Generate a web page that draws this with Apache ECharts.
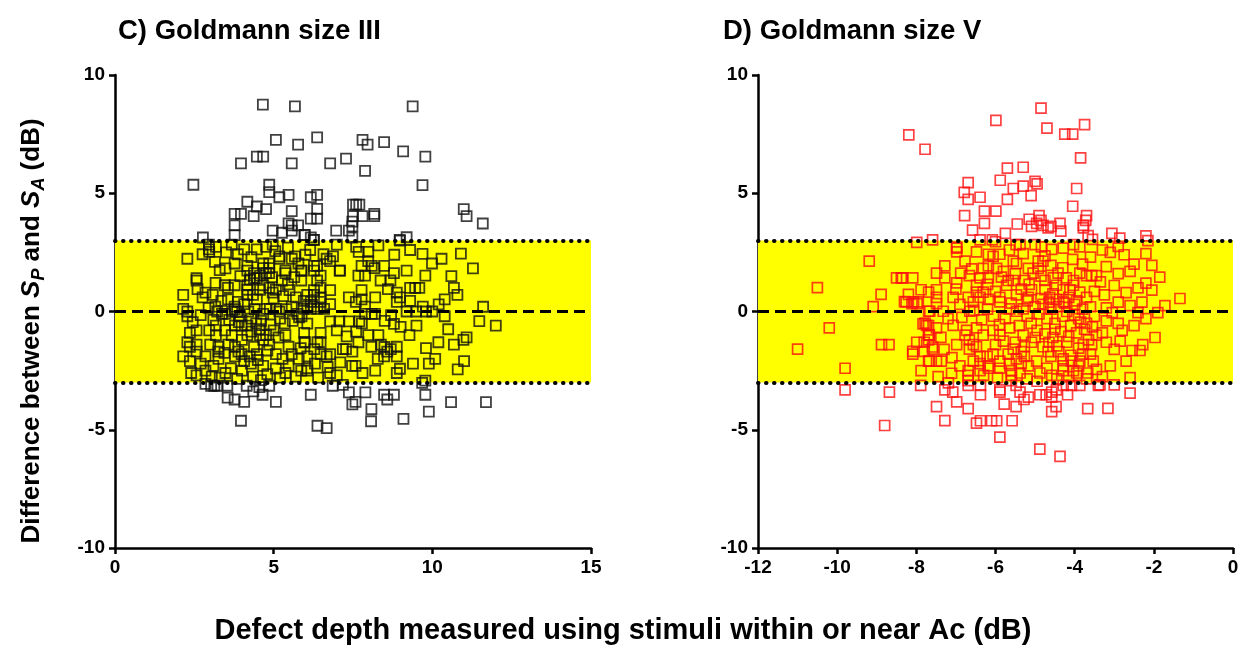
<!DOCTYPE html>
<html>
<head>
<meta charset="utf-8">
<title>Goldmann size III / V</title>
<script src="https://cdn.jsdelivr.net/npm/echarts@6/dist/echarts.min.js"></script>
<style>
  html, body { margin: 0; padding: 0; background: #fff; }
  #main { width: 1248px; height: 654px; }
</style>
</head>
<body>
<div id="main"></div>
<script>
// panel titles and axis names
const panelTitles = ['C) Goldmann size III', 'D) Goldmann size V'];
const xAxisName = 'Defect depth measured using stimuli within or near Ac (dB)';

// reference lines (dB)
const limitLow = -3;
const limitHigh = 3;
const meanDiff = 0;

// axis ranges
const yRange = [-10, 10];
const xRangeIII = [0, 15];
const xRangeV = [-12, 0];

// C) size III : [defect depth, difference]
const sizeIIIPoints = [
  [4.66,8.75],[5.67,8.67],[9.38,8.67],[5.07,7.26],[5.77,7.06],[6.37,7.36],[7.8,7.26],[7.96,7.06],[8.48,7.16],[9.08,6.77],[9.78,6.55],
  [2.47,5.36],[3.97,6.26],[4.47,6.55],[4.67,6.55],[5.57,6.26],[6.78,6.26],[7.28,6.46],[7.88,5.95],[9.69,5.34],
  [4.86,5.36],[4.86,5.05],[5.18,4.83],[5.47,4.93],[6.17,4.83],[6.37,4.93],[4.17,4.64],[4.47,4.44],[4.76,4.33],[3.77,4.13],
  [3.97,4.13],[4.37,4.03],[5.57,4.24],[6.37,4.34],[6.17,3.93],[6.37,3.93],[3.77,3.64],[5.47,3.73],[5.57,3.64],[5.77,3.64],
  [4.97,3.42],[5.26,3.33],[5.57,3.42],[3.77,3.23],[5.97,3.23],[6.17,3.13],[6.26,3.03],[6.97,3.42],[7.37,3.42],[7.48,3.6],
  [7.48,3.8],[7.48,3.13],[7.5,4.03],[7.8,4.03],[7.5,4.52],[7.6,4.52],[7.7,4.52],[8.17,4.13],[8.17,4.03],[8.97,3.03],
  [2.77,3.13],[10.99,4.33],[11.08,4.03],[11.59,3.72],[8.98,3.0],[9.19,3.14],[5.98,3.24],[6.27,3.03],
  [2.85,-3.06],[3.03,-3.14],[3.13,-3.14],[3.23,-3.14],[3.54,-3.14],[4.15,-3.14],[4.36,-3.38],[4.55,-3.2],[4.65,-3.52],[4.86,-3.14],
  [3.55,-3.64],[3.77,-3.72],[4.07,-3.82],[5.07,-3.82],[6.17,-3.52],[3.97,-4.62],[6.38,-4.83],[6.67,-4.93],[6.86,-3.14],[7.18,-3.1],
  [7.37,-3.42],[7.89,-3.42],[7.48,-3.93],[7.58,-3.82],[8.48,-3.52],[8.79,-3.52],[8.58,-3.72],[8.08,-4.13],[8.07,-4.64],[9.09,-4.54],
  [9.78,-3.52],[9.89,-4.23],[10.59,-3.83],[11.69,-3.83],[9.68,-3.02],[9.78,-2.92],
  [2.28,2.23],[2.96,2.83],[2.96,2.63],[3.18,2.73],[2.76,2.42],[2.97,2.52],[2.57,1.41],[2.57,1.31],[3.17,1.21],[2.85,0.8],
  [3.08,0.7],[2.76,0.6],[2.15,0.7],[3.16,0.21],[2.15,0.11],[2.28,0.0],[2.28,-0.2],[3.22,0],[3.37,-0.1],[3.48,-0.1],[3.69,0],
  [2.57,-0.8],[2.36,-0.9],[2.28,-1.3],[2.36,-1.49],[2.57,-1.4],[2.15,-1.9],[2.36,-2.1],[2.57,-1.7],[2.85,-1.9],[2.57,-2.7],
  [2.85,-2.5],[2.97,-0.8],[3.18,-0.6],[3.18,-1.0],[3.0,-1.4],[3.26,-1.49],[3.26,-1.7],[3.26,-2.0],[3.48,-2.6],[3.47,-0.8],
  [3.68,-1.0],[3.57,-1.4],[3.78,-1.49],[3.78,-1.9],[3.89,-1.7],[3.99,-1.8],[3.78,-0.6],[3.99,-0.6],
  [3.68,2.83],[3.87,2.42],[4.07,2.63],[4.47,2.63],[4.76,2.73],[4.97,2.83],[3.77,2.03],[3.48,1.82],[4.17,1.93],[4.17,1.73],
  [4.67,2.03],[4.86,2.03],[4.67,1.83],[4.86,1.83],[5.18,2.33],[5.18,2.23],[5.57,2.23],[5.67,2.33],[5.78,2.03],[5.37,1.73],
  [5.37,1.62],[5.87,1.73],[5.87,1.31],[4.38,1.62],[4.38,1.41],[4.47,1.41],[4.57,1.52],[4.76,1.62],[4.86,1.62],[5.26,1.31],
  [3.46,1.11],[3.56,1.0],[3.77,1.11],[4.17,1.11],[4.17,0.92],[4.17,0.7],[4.57,0.92],[4.67,1.11],[4.86,1.0],[4.97,0.8],
  [5.07,0.92],[3.56,0.51],[3.87,0.41],[4.47,0.51],[4.07,0.31],[3.77,0.21],[3.77,0.1],[3.85,0],[3.94,-0.2],[4.67,-0.1],
  [4.78,0.11],[4.88,0.11],[5.07,0.11],[5.18,0],[5.57,0.21],
  [4.17,-0.6],[4.17,-1.0],[4.07,-2.1],[4.28,-2.2],[4.38,-1.49],[4.47,-1.8],[4.57,-1.0],[4.67,-1.2],[4.76,-1.0],[4.67,-2.3],
  [4.86,-1.4],[5.07,-1.8],[5.07,-2.41],[5.37,-2.6],[5.28,-2.0],[5.47,-2.3],[5.37,-1.0],[5.47,-1.49],[5.57,-1.8],[5.79,-2.0],
  [5.97,-1.3],[6.06,-1.9],[5.87,-2.5],[6.06,-2.5],
  [3.6,-0.35],[3.9,-0.45],[4.3,-0.3],[4.45,-0.5],[4.6,-0.4],[4.9,-0.55],[5.2,-0.3],[5.35,-0.5],[5.6,-0.4],[5.8,-0.25],
  [4.2,0.0],[4.4,0.1],[5.4,0.1],[5.75,-0.1],[4.55,-0.75],[5.0,-0.8],[5.15,-1.1],[4.3,-0.85],[3.65,-2.4],[4.0,-2.5],
  [4.35,-2.75],[4.8,-2.65],[5.7,-2.75],[3.3,-2.8],[4.0,-1.2],[5.85,-1.55],[4.25,-1.9],[4.8,-1.65],[3.1,-2.3],[4.5,-2.05],
  [6.57,2.42],[6.67,2.23],[6.87,2.33],[6.78,2.13],[7.08,1.73],[6.27,1.93],[6.37,1.93],[6.27,1.73],[6.48,1.52],[6.37,1.31],
  [5.88,1.73],[6.48,1.0],[6.78,0.9],[6.27,0.9],[6.27,0.7],[6.06,0.7],[6.48,0.6],[6.48,0.41],[6.17,0.41],[6.27,0.21],
  [6.06,0.21],[6.78,0.31],[6.59,0.11],[5.94,0.11],[6.17,0.11],[6.38,0.11],[5.88,-0.2],[6.06,-0.51],[5.96,-0.9],[6.48,-0.9],
  [6.99,2.83],[7.6,2.73],[7.68,2.52],[7.98,2.52],[7.98,2.13],[8.09,1.93],[8.18,1.83],[7.77,1.93],[8.48,1.93],[8.79,1.62],
  [9.19,1.73],[9.69,2.44],[9.99,2.03],[10.29,2.23],[9.78,1.52],[11.28,1.82],[7.67,1.52],[7.88,1.52],[8.37,1.31],[8.68,1.31],
  [7.77,0.9],[7.37,0.6],[7.59,0.41],[7.77,0.51],[8.88,0.8],[8.98,0.6],[8.88,0.41],[9.3,1.0],[9.46,1.0],[9.59,1.0],
  [10.68,1.0],[10.79,0.7],[10.39,0.51],[7.88,0.21],[7.88,-0.1],[8.09,-0.1],[8.19,-0.1],[9.19,0],[9.49,0],[9.7,0.21],
  [9.8,0],[10.0,0],[10.39,-0.2],[11.48,-0.41],[12.0,-0.6],[8.79,-0.52],[6.78,-0.42],[7.07,-0.42],[7.37,-0.42],[7.7,-0.42],
  [7.78,-0.5],[6.99,-0.8],[7.98,-1.0],[8.3,-1.0],[9.28,-1.0],[10.98,-1.2],[11.08,-1.09],[10.68,-1.4],[10.19,-1.3],[10.09,-2.0],
  [9.89,-2.2],[9.39,-2.2],[8.98,-2.42],[8.88,-2.6],[7.67,-1.3],[8.08,-1.49],[8.38,-1.4],[8.49,-1.5],[8.58,-1.7],[8.69,-1.59],
  [8.88,-1.49],[8.48,-1.9],[8.88,-1.9],[8.28,-2.0],[7.18,-1.59],[7.28,-1.59],[7.48,-1.7],[7.47,-2.3],[7.58,-2.3],[6.78,-2.6],
  [6.99,-2.7],[6.48,-1.3],[6.38,-1.3],[6.28,-1.59],[6.48,-1.8],[6.78,-1.8],[6.67,-1.9],[5.98,-1.3],[6.06,-2.4],[7.09,1.73],
  [4.25,1.35],[4.95,1.45],[5.0,0.55],[5.3,0.65],[5.5,0.9],[5.7,0.6],[5.45,1.15],[4.35,0.7],[3.95,1.5],[3.3,1.75],
  [3.15,2.1],[2.6,0.95],[3.35,0.45],[5.65,1.45],[5.95,0.45],[6.0,2.4],[6.15,2.6],[5.45,2.7],[5.05,2.55],[4.3,2.3],
  [3.5,2.5],[2.45,-0.45],[2.7,-0.15],[2.95,0.15],[3.1,-0.35],[3.45,-1.75],[2.7,-2.2],[2.4,-2.6],[3.05,-2.75],[3.85,-2.85],
  [4.6,-2.9],[5.2,-2.8],[6.4,-2.8],[6.3,-2.2],[6.7,-2.35],[7.1,-2.15],[7.8,-2.6],[8.2,-2.5],[7.3,-1.05],[7.6,-0.85],
  [8.5,-0.4],[8.7,-0.15],[9.0,-0.65],[9.5,-0.6],[9.8,-1.55],[10.5,-0.75],[10.2,0.3],[9.3,0.45],[8.6,0.95],[8.2,0.6],
  [8.3,2.8],[8.8,2.4],[9.3,2.6],[10.6,1.5],[11.6,0.2],[10.9,2.45],[11.0,-2.1],[10.8,-2.45]
];

// D) size V : [defect depth, difference]
const sizeVPoints = [
  [-8.19,7.47],[-7.78,6.86],[-5.99,8.08],[-5.7,6.06],[-5.88,5.55],[-6.69,5.45],[-6.79,5.04],[-6.69,4.74],[-6.39,4.83],[-5.7,4.74],
  [-6.28,4.24],[-5.99,4.24],[-6.78,4.05],[-6.28,3.73],[-6.58,3.44],[-6.39,3.03],[-6.08,3.03],[-7.99,2.92],[-7.59,3.03],[-6.98,2.68],
  [-4.85,8.6],[-4.7,7.75],[-4.25,7.5],[-4.05,7.5],[-3.75,7.9],[-3.85,6.5],[-3.95,5.2],[-3.7,4.05],[-3.72,3.85],[-4.05,4.45],
  [-5.3,6.1],[-5.0,5.5],[-4.95,5.4],[-5.3,5.3],[-5.55,5.2],[-5.1,4.9],[-4.9,4.05],[-4.85,3.85],[-5.15,3.9],[-5.45,3.7],
  [-4.6,3.6],[-4.35,3.4],[-5.75,3.3],[-6.0,2.95],[-5.09,3.6],[-4.96,3.73],[-4.8,3.64],[-4.67,3.54],[-4.37,3.73],[-3.78,3.64],
  [-3.78,3.54],[-3.66,3.21],[-3.55,3.05],[-3.06,3.3],[-2.86,3.1],[-2.2,3.2],[-2.15,3.0],
  [-9.8,-3.31],[-8.68,-3.41],[-8.8,-4.82],[-7.89,-3.12],[-7.49,-4.02],[-7.28,-4.61],[-7.28,-3.31],[-7.08,-3.41],[-6.98,-3.82],[-6.69,-4.11],
  [-6.48,-4.72],[-6.38,-4.62],[-6.38,-3.12],[-6.38,-3.52],[-6.1,-4.62],[-5.97,-4.62],[-5.89,-3.31],[-5.89,-3.41],[-5.89,-5.31],[-5.78,-3.92],
  [-5.58,-4.62],[-5.48,-4.02],[-5.48,-3.12],[-5.38,-3.41],[-5.28,-3.72],[-5.17,-3.62],[-4.88,-3.52],[-4.72,-3.52],[-4.58,-3.62],[-4.58,-3.41],
  [-4.46,-3.31],[-4.58,-4.23],[-4.47,-4.02],[-4.88,-5.82],[-4.37,-6.13],[-4.29,-3.12],[-4.08,-3.12],[-3.87,-3.12],[-4.18,-3.52],[-3.67,-4.11],
  [-3.4,-3.12],[-6.69,-3.12],[-7.19,-3.02],[-3.16,-4.1],[-3.36,-3.1],[-3.0,-3.1],[-2.6,-3.45],
  [-11.0,-1.59],[-10.5,1.01],[-10.2,-0.69],[-9.8,-2.4],[-9.19,2.13],[-9.09,0.21],[-8.89,0.72],[-8.5,1.42],[-8.38,1.42],[-8.09,1.42],
  [-8.2,0.72],[-8.3,0.42],[-8.11,0.33],[-7.98,0.33],[-7.88,0.92],[-7.69,0.82],[-7.49,1.62],[-7.49,0.92],[-7.49,0.6],[-7.49,0.33],
  [-7.69,0.01],[-7.78,-0.49],[-7.69,-0.6],[-7.49,-0.69],[-7.69,-0.99],[-8.88,-1.4],[-8.69,-1.4],[-7.99,-1.3],[-7.8,-1.3],[-8.09,-1.69],
  [-8.09,-1.8],[-7.8,-1.69],[-7.69,-1.0],[-7.69,-1.2],[-7.59,-1.5],[-7.59,-1.59],[-7.69,-2.1],[-7.88,-2.5],[-7.83,-0.52],[-7.49,-2.1],
  [-8.26,0.41],[-8.07,0.41],[-7.95,0.41],[-7.66,0.01],[-7.28,1.93],[-7.28,1.42],[-8.35,1.42],
  [-7.32,0.01],[-6.65,0.01],[-6.98,2.72],[-6.98,2.52],[-6.48,2.52],[-6.18,2.42],[-5.89,2.42],[-6.06,2.33],[-6.77,2.13],[-6.88,1.62],
  [-6.66,1.52],[-6.98,1.21],[-6.18,1.93],[-5.97,1.82],[-6.31,1.82],[-6.39,1.42],[-6.18,1.42],[-5.55,2.13],[-5.47,2.03],[-5.68,1.31],
  [-5.55,1.31],[-5.72,1.11],[-5.89,0.6],[-5.89,0.41],[-6.18,0.51],[-6.31,0.82],[-6.48,1.11],[-6.48,0.82],[-6.39,0.6],[-6.69,0.6],
  [-6.56,0.41],[-7.07,0.6],[-5.64,0.11],[-5.47,0.01],[-7.74,-0.59],[-7.07,-0.59],[-6.73,-0.8],[-6.48,-0.69],[-6.31,-1.0],[-6.06,-0.8],
  [-5.89,-1.0],[-5.64,-0.69],[-7.67,-1.0],[-7.38,-1.09],[-6.98,-1.4],[-6.77,-1.0],[-6.66,-1.2],[-6.56,-1.4],[-6.66,-1.59],[-6.48,-1.49],
  [-6.39,-1.9],[-6.56,-2.1],[-6.39,-2.2],[-6.18,-2.3],[-6.21,-1.9],[-6.06,-1.8],[-6.69,-2.5],[-6.69,-2.7],[-6.39,-2.5],[-6.18,-2.4],
  [-5.89,-2.1],[-5.89,-2.4],[-5.68,-1.8],[-5.55,-1.59],[-5.47,-2.0],[-5.6,-2.5],[-5.6,-2.7],[-5.38,-2.6],[-5.6,-2.92],[-6.69,-2.92],
  [-7.11,-2.61],[-7.67,-2.1],[-7.37,-2.1],[-5.48,2.83],[-5.38,2.83],
  [-5.0,2.83],[-4.84,2.73],[-4.58,2.63],[-4.29,2.68],[-4.03,2.83],[-3.87,2.73],[-5.26,1.31],[-5.17,1.82],[-5.05,1.62],[-4.92,1.82],
  [-4.92,2.13],[-4.8,2.13],[-4.75,1.31],[-4.54,1.42],[-4.42,1.62],[-4.21,1.42],[-4.03,1.31],[-3.87,1.62],[-3.7,1.52],[-3.57,1.52],
  [-3.45,1.52],[-4.46,1.11],[-4.29,0.92],[-4.12,0.92],[-4.03,1.11],[-3.87,0.82],[-4.75,0.92],[-4.63,0.6],[-4.46,0.51],[-4.29,0.41],
  [-5.09,0.92],[-5.17,0.6],[-5.47,0.7],[-5.3,0.11],
  [-5.09,-1.3],[-4.8,-1.49],[-4.67,-1.7],[-5.27,-1.49],[-5.27,-1.9],[-5.17,-2.3],[-4.96,-2.1],[-4.88,-2.6],[-4.58,-2.7],[-4.29,-2.0],
  [-4.29,-2.3],[-4.29,-2.5],[-4.03,-2.5],[-3.95,-2.6],[-3.67,-2.6],[-4.08,-2.1],[-3.87,-2.1],[-3.53,-2.1],[-3.45,-1.0],[-3.78,-1.4],
  [-3.57,-1.4],
  [-5.0,0.2],[-4.9,-0.1],[-4.8,0.3],[-4.7,-0.3],[-4.6,0.1],[-4.5,-0.5],[-4.4,0.2],[-4.3,-0.2],[-4.2,0.0],[-4.1,-0.6],
  [-4.0,0.3],[-3.9,-0.3],[-3.8,0.1],[-3.7,-0.5],[-3.6,0.2],[-3.5,-0.2],[-5.1,-0.5],[-4.95,-0.8],[-4.75,-0.95],[-4.55,-1.1],
  [-4.35,-0.85],[-4.15,-1.05],[-3.95,-0.9],[-3.75,-0.75],[-3.55,-0.65],[-4.85,0.55],[-4.55,0.75],[-4.15,0.6],[-3.95,0.45],[-3.7,0.6],
  [-3.5,0.85],[-4.65,-1.3],[-4.45,-1.45],[-4.2,-1.3],[-3.9,-1.55],[-3.65,-1.2],[-4.4,-1.7],[-4.1,-1.85],[-3.8,-1.8],[-5.2,-0.2],
  [-5.4,-0.6],[-5.3,-1.0],[-5.2,0.45],[-4.6,-1.9],[-3.6,-1.8],[-4.0,-0.15],[-4.25,0.35],[-4.65,0.4],[-3.85,-0.45],[-4.5,-0.75],
  [-5.0,-1.1],[-5.15,1.15],[-4.85,1.5],[-4.6,1.95],[-4.3,1.85],[-4.05,2.2],[-3.8,2.0],[-3.6,2.3],[-4.75,2.35],[-5.3,2.45],
  [-5.65,2.6],[-5.8,1.7],[-5.5,1.6],[-5.35,0.95],[-5.6,0.35],[-5.75,-0.3],[-5.9,-0.55],[-6.05,-0.2],[-6.2,0.1],[-6.35,-0.35],
  [-6.55,0.05],[-6.85,-0.25],[-6.9,0.3],[-6.2,1.15],[-6.0,0.85],[-5.85,1.45],[-6.6,1.8],[-7.0,0.95],[-7.2,-0.3],[-7.3,-1.6],
  [-7.1,-1.95],[-6.9,-2.3],[-6.0,-1.4],[-5.8,-1.25],[-5.65,-2.2],[-5.35,-2.2],[-5.2,-2.85],[-4.95,-2.95],[-4.7,-2.4],[-4.45,-2.85],
  [-4.15,-2.75],[-3.9,-2.3],[-3.7,-2.85],[-3.45,-2.45],[-5.5,-1.3],[-5.35,-1.7],[-6.3,-2.7],[-5.95,-2.8],[-7.45,-2.75],
  [-3.3,2.6],[-3.1,2.5],[-2.9,2.75],[-2.75,2.4],[-2.5,2.0],[-3.2,1.9],[-2.9,1.6],[-2.6,1.7],[-1.85,1.45],[-2.2,1.2],
  [-2.05,0.9],[-2.4,1.0],[-2.7,0.8],[-3.0,1.1],[-3.25,0.7],[-1.34,0.55],[-1.72,0.25],[-2.3,0.4],[-2.6,0.25],[-2.9,0.4],
  [-3.2,0.15],[-1.9,-0.05],[-2.2,-0.3],[-2.5,-0.6],[-2.8,-0.8],[-2.9,-0.5],[-3.2,-0.4],[-3.3,-0.9],[-1.97,-1.1],[-2.28,-1.4],
  [-2.35,-1.65],[-2.55,-1.65],[-2.7,-2.1],[-3.0,-1.6],[-3.2,-1.3],[-2.6,-2.8],[-3.1,-2.3],[-3.3,-2.75],[-2.2,2.45],[-2.05,1.95],
  [-3.35,1.25],[-2.85,-1.25],[-2.4,-0.05],[-3.05,-0.05]
];

const FONT = '"Liberation Sans", Arial, Helvetica, sans-serif';

function axisCommon() {
  return {
    axisLine: { show: true, onZero: false, lineStyle: { color: '#000', width: 2.5 } },
    axisTick: { show: true, length: 6, lineStyle: { color: '#000', width: 2.5 } },
    axisLabel: { color: '#000', fontSize: 19, fontWeight: 'bold', fontFamily: FONT, margin: 10 },
    splitLine: { show: false }
  };
}

function bandSeries(name, idx, data, stroke, width) {
  return {
    name: name,
    type: 'scatter',
    xAxisIndex: idx,
    yAxisIndex: idx,
    data: data,
    symbol: 'rect',
    symbolSize: 10,
    itemStyle: { color: 'rgba(0,0,0,0)', borderColor: stroke, borderWidth: width },
    markArea: {
      silent: true,
      itemStyle: { color: '#ffff00' },
      data: [[{ yAxis: limitLow }, { yAxis: limitHigh }]]
    },
    markLine: {
      silent: true,
      symbol: 'none',
      label: { show: false },
      data: [
        { yAxis: limitHigh, lineStyle: { color: '#000', width: 4, type: [0.5, 7.5], cap: 'round' } },
        { yAxis: limitLow, lineStyle: { color: '#000', width: 4, type: [0.5, 7.5], cap: 'round' } },
        { yAxis: meanDiff, lineStyle: { color: '#000', width: 3, type: [11, 6] } }
      ]
    }
  };
}

const titleStyle = { fontSize: 27.5, fontWeight: 'bold', color: '#000', fontFamily: FONT };

const option = {
  animation: false,
  backgroundColor: '#fff',
  textStyle: { fontFamily: FONT },
  title: [
    { text: panelTitles[0], left: 113, top: 12, textStyle: titleStyle },
    { text: panelTitles[1], left: 718, top: 12, textStyle: titleStyle }
  ],
  grid: [
    { left: 115, top: 75, width: 476, height: 473 },
    { left: 758, top: 75, width: 475, height: 473 }
  ],
  xAxis: [
    Object.assign(axisCommon(), { gridIndex: 0, type: 'value', min: xRangeIII[0], max: xRangeIII[1], interval: 5 }),
    Object.assign(axisCommon(), { gridIndex: 1, type: 'value', min: xRangeV[0], max: xRangeV[1], interval: 2 })
  ],
  yAxis: [
    Object.assign(axisCommon(), { gridIndex: 0, type: 'value', min: yRange[0], max: yRange[1], interval: 5 }),
    Object.assign(axisCommon(), { gridIndex: 1, type: 'value', min: yRange[0], max: yRange[1], interval: 5 })
  ],
  graphic: [
    {
      type: 'text',
      x: 623, y: 631,
      style: {
        text: xAxisName,
        font: 'bold 29px ' + FONT,
        fill: '#000',
        align: 'center',
        verticalAlign: 'middle'
      }
    },
    {
      type: 'text',
      x: 32, y: 331,
      rotation: Math.PI / 2,
      style: {
        text: '{n|Difference between }{s|S}{sub|P}{n| and }{s|S}{sub|A}{n| (dB)}',
        align: 'center',
        verticalAlign: 'middle',
        fill: '#000',
        rich: {
          n: { fontSize: 26, fontWeight: 'bold', fontFamily: FONT, lineHeight: 32 },
          s: { fontSize: 26, fontWeight: 'bold', fontStyle: 'italic', fontFamily: FONT, lineHeight: 32 },
          sub: { fontSize: 18, fontWeight: 'bold', fontStyle: 'italic', fontFamily: FONT, lineHeight: 32, padding: [14, 0, 0, 0] }
        }
      }
    }
  ],
  series: [
    bandSeries('Goldmann size III', 0, sizeIIIPoints, '#111', 1.8),
    bandSeries('Goldmann size V', 1, sizeVPoints, '#ff1010', 1.7)
  ]
};

const chart = echarts.init(document.getElementById('main'), null, { renderer: 'canvas' });
chart.setOption(option);
</script>
</body>
</html>
